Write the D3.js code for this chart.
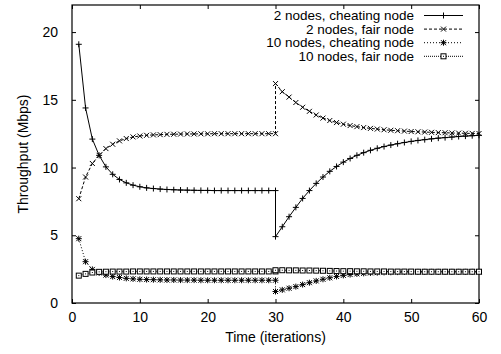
<!DOCTYPE html>
<html>
<head>
<meta charset="utf-8">
<script src="https://cdn.jsdelivr.net/npm/d3@7"></script>
<style>
  body { margin: 0; background: #fff; }
  text { font-family: "Liberation Sans", Arial, sans-serif; font-size: 14px; fill: #000; }
</style>
</head>
<body>
<div id="chart"></div>
<script>
// iteration numbers (30 appears twice: value before and after the change)
var times = [1,2,3,4,5,6,7,8,9,10,11,12,13,14,15,16,17,18,19,20,
  21,22,23,24,25,26,27,28,29,30,30,31,32,33,34,35,36,37,38,39,40,
  41,42,43,44,45,46,47,48,49,50,51,52,53,54,55,56,57,58,59,60];

var cheat2 = [19.1,14.4,12.1,10.9,10.05,9.5,9.12,8.87,8.7,8.58,
  8.5,8.45,8.41,8.38,8.36,8.34,8.33,8.32,8.31,8.31,
  8.3,8.3,8.3,8.3,8.3,8.3,8.3,8.3,8.3,8.3,
  4.9,
  5.63,6.37,7.06,7.72,8.3,8.83,9.3,9.72,10.08,10.4,
  10.67,10.9,11.1,11.27,11.42,11.55,11.66,11.76,11.85,11.93,
  12.0,12.06,12.12,12.17,12.21,12.25,12.29,12.32,12.35,12.38];

var fair2 = [7.7,9.3,10.3,10.9,11.4,11.72,11.97,12.14,12.26,12.33,
  12.38,12.41,12.43,12.45,12.46,12.47,12.48,12.48,12.49,12.49,
  12.5,12.5,12.5,12.5,12.5,12.5,12.5,12.5,12.5,12.5,
  16.2,
  15.6,15.2,14.8,14.45,14.15,13.88,13.65,13.47,13.32,13.2,
  13.1,13.02,12.95,12.89,12.84,12.79,12.75,12.72,12.69,12.66,
  12.64,12.62,12.6,12.58,12.57,12.55,12.54,12.53,12.52,12.51];

var cheat10 = [4.75,3.05,2.48,2.22,2.06,1.95,1.88,1.82,1.78,1.75,
  1.73,1.72,1.71,1.7,1.7,1.69,1.69,1.69,1.68,1.68,
  1.68,1.68,1.68,1.68,1.68,1.68,1.68,1.68,1.68,1.68,
  0.85,
  0.97,1.09,1.21,1.36,1.5,1.63,1.75,1.86,1.96,2.04,
  2.1,2.15,2.19,2.22,2.24,2.26,2.27,2.28,2.29,2.29,
  2.3,2.3,2.3,2.3,2.3,2.3,2.3,2.3,2.3,2.3];

var fair10 = [2.02,2.15,2.25,2.3,2.31,2.32,2.32,2.32,2.33,2.33,
  2.33,2.33,2.33,2.33,2.33,2.33,2.33,2.33,2.33,2.33,
  2.33,2.33,2.33,2.33,2.33,2.33,2.33,2.33,2.33,2.33,
  2.42,
  2.42,2.41,2.41,2.4,2.4,2.39,2.38,2.37,2.36,2.35,
  2.35,2.34,2.34,2.33,2.33,2.33,2.32,2.32,2.32,2.32,
  2.31,2.31,2.31,2.31,2.31,2.31,2.31,2.31,2.31,2.31];

var seriesNames = ["2 nodes, cheating node", "2 nodes, fair node",
  "10 nodes, cheating node", "10 nodes, fair node"];
var xTicks = [0, 10, 20, 30, 40, 50, 60];
var yTicks = [0, 5, 10, 15, 20];

var series = [
  {name: seriesNames[0], values: cheat2, dash: null, marker: "plus"},
  {name: seriesNames[1], values: fair2, dash: "3,2", marker: "cross"},
  {name: seriesNames[2], values: cheat10, dash: "1,2", marker: "star"},
  {name: seriesNames[3], values: fair10, dash: "1,1", marker: "square"}
];

var margin = {top: 5, right: 22, bottom: 51, left: 72},
    width = 501 - margin.left - margin.right,
    height = 354 - margin.top - margin.bottom;

var x = d3.scaleLinear().domain([0, 60]).range([0, width]);
var y = d3.scaleLinear().domain([0, 22]).range([height, 0]);

var svg = d3.select("#chart").append("svg")
    .attr("width", 501)
    .attr("height", 354)
  .append("g")
    .attr("transform", "translate(" + margin.left + "," + margin.top + ")");

// axes, ticks pointing inward like gnuplot
svg.append("g")
    .attr("transform", "translate(0," + height + ")")
    .call(d3.axisBottom(x).tickValues(xTicks).tickSize(-4).tickPadding(9));
svg.append("g")
    .call(d3.axisTop(x).tickValues(xTicks).tickSize(-4).tickFormat(""));
svg.append("g")
    .call(d3.axisLeft(y).tickValues(yTicks).tickSize(-4).tickPadding(14));
svg.append("g")
    .attr("transform", "translate(" + width + ",0)")
    .call(d3.axisRight(y).tickValues(yTicks).tickSize(-4).tickFormat(""));

svg.selectAll(".domain").remove();
svg.selectAll(".tick line").attr("stroke", "#000");
svg.selectAll(".tick text")
    .attr("font-family", "Liberation Sans, Arial, sans-serif")
    .attr("font-size", 14)
    .attr("fill", "#000");

svg.append("rect")
    .attr("width", width)
    .attr("height", height)
    .attr("fill", "none")
    .attr("stroke", "#000")
    .attr("stroke-width", 1.2);

// axis titles
svg.append("text")
    .attr("x", width / 2)
    .attr("y", height + 39)
    .attr("text-anchor", "middle")
    .text("Time (iterations)");
svg.append("text")
    .attr("transform", "translate(-44," + (height / 2) + ") rotate(-90)")
    .attr("text-anchor", "middle")
    .text("Throughput (Mbps)");

function drawMarker(g, type, cx, cy) {
  if (type === "plus" || type === "star") {
    g.append("path").attr("d", "M" + (cx - 3) + "," + cy + "h6M" + cx + "," + (cy - 3) + "v6");
  }
  if (type === "cross" || type === "star") {
    g.append("path").attr("d", "M" + (cx - 2.5) + "," + (cy - 2.5) + "l5,5M" + (cx - 2.5) + "," + (cy + 2.5) + "l5,-5");
  }
  if (type === "square") {
    g.append("rect").attr("x", cx - 2.5).attr("y", cy - 2.5).attr("width", 5).attr("height", 5)
      .attr("fill", "#fff");
    g.append("rect").attr("x", cx - 0.5).attr("y", cy - 0.5).attr("width", 1).attr("height", 1)
      .attr("fill", "#000").attr("stroke", "none");
  }
}

var line = d3.line()
    .x(function(d) { return x(d[0]); })
    .y(function(d) { return y(d[1]); });

series.forEach(function(s) {
  var pts = times.map(function(t, i) { return [t, s.values[i]]; });
  svg.append("path")
      .datum(pts)
      .attr("fill", "none")
      .attr("stroke", "#000")
      .attr("stroke-width", 1)
      .attr("stroke-dasharray", s.dash)
      .attr("d", line);
  var mg = svg.append("g").attr("stroke", "#000").attr("stroke-width", 1).attr("fill", "none");
  pts.forEach(function(p) { drawMarker(mg, s.marker, x(p[0]), y(p[1])); });
});

// legend
var legend = svg.append("g").attr("transform", "translate(" + (414 - margin.left) + ",0)");
series.forEach(function(s, i) {
  var cy = 10.5 + i * 13.6;
  legend.append("text")
      .attr("x", 0)
      .attr("y", cy)
      .attr("dy", "0.35em")
      .attr("text-anchor", "end")
      .style("font-size", "13.5px")
      .text(s.name);
  legend.append("line")
      .attr("x1", 10).attr("x2", 49)
      .attr("y1", cy).attr("y2", cy)
      .attr("stroke", "#000")
      .attr("stroke-dasharray", s.dash);
  var mg = legend.append("g").attr("stroke", "#000").attr("stroke-width", 1).attr("fill", "none");
  drawMarker(mg, s.marker, 29.5, cy);
});
</script>
</body>
</html>
